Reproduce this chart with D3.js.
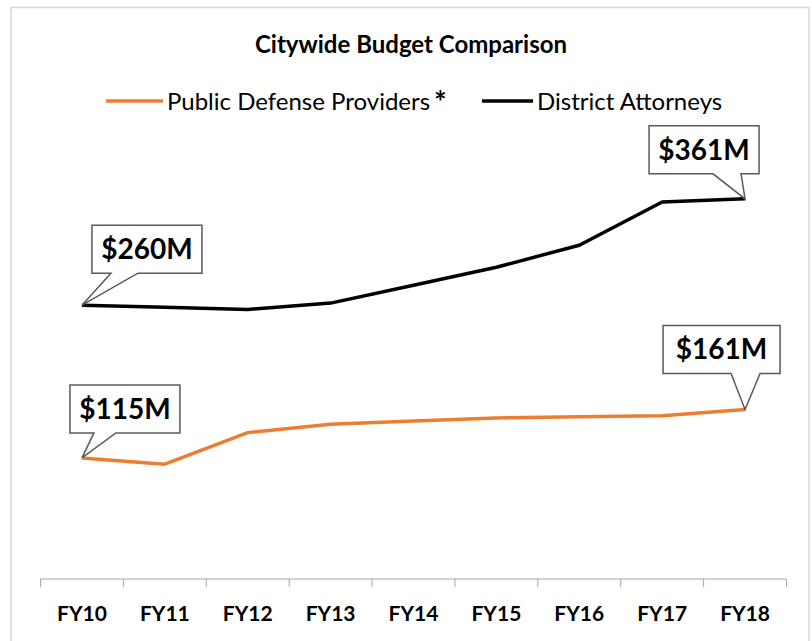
<!DOCTYPE html>
<html>
<head>
<meta charset="utf-8">
<script src="https://cdn.jsdelivr.net/npm/d3@7"></script>
<style>
  body { margin: 0; background: #fff; }
  svg { display: block; font-family: Lato, Carlito, Calibri, "Liberation Sans", sans-serif; }
</style>
</head>
<body>
<svg></svg>
<script>
window.addEventListener('DOMContentLoaded', () => {
  let svgWidth = 812
  let svgHeight = 641

  // chart data
  let years = ['FY10', 'FY11', 'FY12', 'FY13', 'FY14', 'FY15', 'FY16', 'FY17', 'FY18']
  let publicDefense = [115, 109, 139, 147, 150, 153, 154, 155, 161]
  let districtAttorneys = [260, 258, 256, 262, 279, 296, 317, 358, 361]
  let seriesNames = ['Public Defense Providers', 'District Attorneys']
  let seriesColors = ['#ED7D31', '#000000']

  // callout boxes: series index, year index, box offsets from point, tail base offsets
  let callouts = [
    { s: 1, i: 0, box: [10, -80, 110, 48], tail: [29, 56] },
    { s: 1, i: 8, box: [-96, -73, 110, 48], tail: [-32, -4] },
    { s: 0, i: 0, box: [-12, -73, 110, 48], tail: [12, 34] },
    { s: 0, i: 8, box: [-82, -84, 117, 48], tail: [-14, 15] }
  ]

  let allSeries = [publicDefense, districtAttorneys]

  let svg = d3.select('svg')
      .attr('width', svgWidth)
      .attr('height', svgHeight)

  /* chart border */
  svg.append('rect')
      .attr('x', 11)
      .attr('y', 7.5)
      .attr('width', 798)
      .attr('height', 700)
      .attr('fill', 'none')
      .attr('stroke', '#d9d9d9')
      .attr('stroke-width', 1.5)

  /* scales */
  let xScale = d3.scaleBand()
      .domain(years)
      .range([40.5, 786.5])

  let yScale = d3.scaleLinear()
      .domain([0, 500])
      .range([579, 52.5])

  let xMid = d => xScale(d) + xScale.bandwidth() / 2

  /* title */
  svg.append('text')
      .attr('x', 411)
      .attr('y', 53)
      .attr('text-anchor', 'middle')
      .style('font-weight', 'bold')
      .style('font-size', '24px')
      .text('Citywide Budget Comparison')

  /* legend */
  let legendItems = [
    { x: 106, lineW: 57, label: seriesNames[0], star: true },
    { x: 482, lineW: 51, label: seriesNames[1], star: false }
  ]
  legendItems.forEach((d, k) => {
    let g = svg.append('g').attr('transform', `translate(${d.x}, 101)`)
    g.append('line')
        .attr('x1', 0).attr('x2', d.lineW)
        .attr('stroke', seriesColors[k])
        .attr('stroke-width', 3.5)
    let t = g.append('text')
        .attr('x', d.lineW + 4)
        .attr('y', 8.5)
        .style('font-size', '24px')
        .text(d.label)
    if (d.star) {
      t.append('tspan')
          .attr('dx', 4)
          .attr('dy', 3)
          .style('font-weight', 'bold')
          .style('font-size', '30px')
          .text('*')
    }
  })

  /* x axis */
  let axisY = yScale(0)
  svg.append('line')
      .attr('x1', xScale.range()[0]).attr('x2', xScale.range()[1])
      .attr('y1', axisY).attr('y2', axisY)
      .attr('stroke', '#a6a6a6')
      .attr('stroke-width', 1)

  let edges = years.map(d => xScale(d)).concat([xScale.range()[1]])
  svg.selectAll('.tick')
    .data(edges)
    .enter()
    .append('line')
      .classed('tick', true)
      .attr('x1', d => d).attr('x2', d => d)
      .attr('y1', axisY).attr('y2', axisY + 8)
      .attr('stroke', '#a6a6a6')

  svg.selectAll('.xLabel')
    .data(years)
    .enter()
    .append('text')
      .classed('xLabel', true)
      .attr('x', d => xMid(d))
      .attr('y', 621)
      .attr('text-anchor', 'middle')
      .style('font-weight', 'bold')
      .style('font-size', '21px')
      .text(d => d)

  /* lines */
  let line = d3.line()
      .x((d, i) => xMid(years[i]))
      .y(d => yScale(d))

  svg.selectAll('.series')
    .data(allSeries)
    .enter()
    .append('path')
      .classed('series', true)
      .attr('d', d => line(d))
      .attr('fill', 'none')
      .attr('stroke', (d, k) => seriesColors[k])
      .attr('stroke-width', 3.5)
      .attr('stroke-linejoin', 'round')

  /* callouts */
  callouts.forEach(c => {
    let px = xMid(years[c.i])
    let py = yScale(allSeries[c.s][c.i])
    let [bx, by, bw, bh] = c.box
    let x0 = px + bx, y0 = py + by, x1 = x0 + bw, y1 = y0 + bh
    let pts = [
      [x0, y0], [x1, y0], [x1, y1],
      [px + c.tail[1], y1], [px, py], [px + c.tail[0], y1],
      [x0, y1]
    ]
    svg.append('path')
        .attr('d', 'M' + pts.join('L') + 'Z')
        .attr('fill', '#fff')
        .attr('stroke', '#595959')
        .attr('stroke-width', 1.5)
        .attr('stroke-linejoin', 'miter')
    svg.append('text')
        .attr('x', x0 + bw / 2)
        .attr('y', y0 + bh / 2 + 10)
        .attr('text-anchor', 'middle')
        .style('font-weight', 'bold')
        .style('font-size', '28px')
        .text(`$${allSeries[c.s][c.i]}M`)
  })
})
</script>
</body>
</html>
